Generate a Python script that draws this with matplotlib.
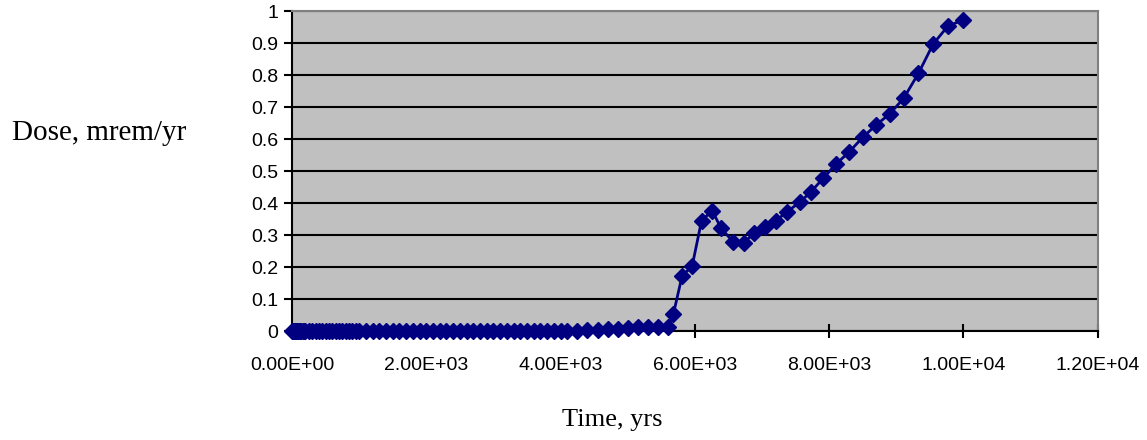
import matplotlib.pyplot as plt
from matplotlib.ticker import FuncFormatter

# time (yrs) and dose (mrem/yr)
years = [0, 10, 20, 30, 40, 50, 60, 70, 80, 90, 100, 120, 140, 160, 180,
         200, 250, 300, 350, 400, 450, 500, 550, 600, 650, 700, 750, 800,
         850, 900, 950, 1000, 1100, 1200, 1300, 1400, 1500, 1600, 1700,
         1800, 1900, 2000, 2100, 2200, 2300, 2400, 2500, 2600, 2700, 2800,
         2900, 3000, 3100, 3200, 3300, 3400, 3500, 3600, 3700, 3800, 3900,
         4000, 4100, 4250, 4400, 4550, 4700, 4850, 5000, 5150, 5300, 5450,
         5600,
         5680, 5810, 5960, 6100, 6260, 6390, 6570, 6730, 6880, 7040, 7210,
         7370, 7560, 7730, 7910, 8100, 8300, 8500, 8700, 8900, 9110, 9330,
         9550, 9770, 10000]
dose = [0, 0, 0, 0, 0, 0, 0, 0, 0, 0, 0, 0, 0, 0, 0,
        0, 0, 0, 0, 0, 0, 0, 0, 0, 0, 0, 0, 0,
        0, 0, 0, 0, 0, 0, 0, 0, 0, 0, 0,
        0, 0, 0, 0, 0, 0, 0, 0, 0, 0, 0,
        0, 0, 0, 0, 0, 0, 0, 0, 0, 0, 0,
        0, 0.001, 0.001, 0.002, 0.003, 0.005, 0.007, 0.009, 0.011, 0.012, 0.013,
        0.014,
        0.053, 0.172, 0.203, 0.345, 0.376, 0.321, 0.279, 0.276, 0.305, 0.326,
        0.345, 0.372, 0.402, 0.435, 0.477, 0.521, 0.560, 0.605, 0.644, 0.678,
        0.727, 0.805, 0.897, 0.953, 0.972]

xticks = [0, 2000, 4000, 6000, 8000, 10000, 12000]
yticks = [0, 0.1, 0.2, 0.3, 0.4, 0.5, 0.6, 0.7, 0.8, 0.9, 1.0]

fig = plt.figure(figsize=(11.47, 4.40), dpi=100)
ax = fig.add_axes([0.2546, 0.2477, 0.7024, 0.7273])
ax.set_facecolor('#C0C0C0')

ax.plot(years, dose, color='#000080', linewidth=2, marker='D',
        markersize=8.5, markeredgecolor='#000080', markerfacecolor='#000080',
        clip_on=False, zorder=3)

ax.set_xlim(0, 12000)
ax.set_ylim(0, 1)
ax.set_xticks(xticks)
ax.set_yticks(yticks)
ax.xaxis.set_major_formatter(FuncFormatter(lambda v, p: '%.2E' % v))
ax.yaxis.set_major_formatter(FuncFormatter(lambda v, p: '%g' % v))

ax.grid(axis='y', color='black', linewidth=1.5)
ax.set_axisbelow(True)

for s in ['top', 'right']:
    ax.spines[s].set_color('#808080')
    ax.spines[s].set_linewidth(1.5)
for s in ['left', 'bottom']:
    ax.spines[s].set_color('black')
    ax.spines[s].set_linewidth(1.5)

ax.tick_params(axis='y', direction='out', length=6, width=1.5, pad=4,
               labelsize=14)
ax.tick_params(axis='x', direction='inout', length=10, width=1.5, pad=14,
               labelsize=14)
for lab in ax.get_xticklabels() + ax.get_yticklabels():
    lab.set_family('Liberation Sans')

fig.text(0.0105, 0.697, 'Dose, mrem/yr', family='Liberation Serif',
         fontsize=21, va='center', ha='left')
fig.text(0.534, 0.045, 'Time, yrs', family='Liberation Serif',
         fontsize=19, va='center', ha='center')

plt.savefig('out.png', dpi=100)
